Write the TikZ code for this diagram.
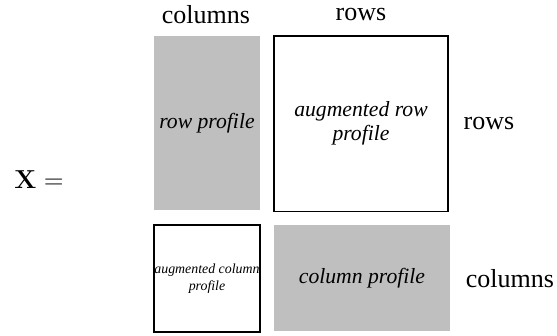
\documentclass[tikz,border=0pt]{standalone}
\usepackage[no-math]{fontspec}
\setmainfont{Liberation Serif}

\begin{document}
\begin{tikzpicture}[x=0.4615pt,y=-0.4615pt]

      \useasboundingbox (0,0) rectangle (557,335);

      \begin{scope}[every node/.style={anchor=base, font=\fontsize{12}{14}\selectfont}]
        \node (X)  at (39,188)  {$\mathbf{X} =$};
        \node (c1) at (206,23)  {columns};
        \node (r1) at (361,20)  {rows};
        \node (r2) at (489,129) {rows};
        \node (c2) at (510,287) {columns};
      \end{scope}

      \begin{scope}[every node/.style={align=center, inner sep=0.2pt, font=\fontsize{10}{11}\selectfont\itshape}]
        \node[fill=black!25, minimum width=48.9pt, minimum height=80.3pt] (rp) at (207,123) {row profile};
        \node[draw, line width=0.5pt, minimum width=80.3pt, minimum height=80.8pt] (arp) at (361,123.5) {augmented row\\profile};
        \node[draw, line width=0.5pt, minimum width=48.9pt, minimum height=49.4pt, font=\fontsize{6.4}{7.8}\selectfont\itshape] (acp) at (207,278.5) {augmented column\\profile};
        \node[fill=black!25, minimum width=80.8pt, minimum height=48.9pt] (cp) at (362,278) {column profile};
      \end{scope}

    \end{tikzpicture}
\end{document}
